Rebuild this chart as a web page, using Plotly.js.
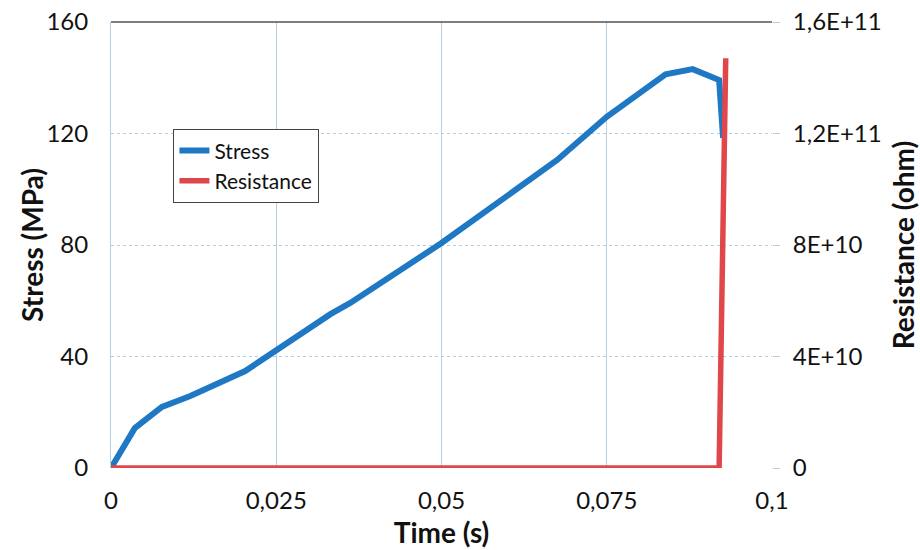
<!DOCTYPE html>
<html>
<head>
<meta charset="utf-8">
<script src="https://cdn.plot.ly/plotly-3.0.1.min.js"></script>
<style>body{margin:0;background:#fff;} #chart{width:920px;height:550px;}</style>
</head>
<body>
<div id="chart"></div>
<script>
// Stress curve (time in s, stress in MPa)
var stressTime = [0, 0.0036, 0.0077, 0.0120, 0.0203, 0.025, 0.0332, 0.0362, 0.05, 0.0675, 0.075, 0.0839, 0.0880, 0.0920, 0.0926];
var stressValues = [0, 14.3, 21.9, 25.8, 34.8, 42.3, 55.2, 59.2, 80.7, 110.5, 126, 141.2, 143.1, 139.2, 118.4];
// Resistance curve (time in s, resistance in ohm)
var resTime = [0, 0.0920, 0.0930];
var resValues = [0, 0, 1.47e11];
// Axis ticks
var xTicks = [0, 0.025, 0.05, 0.075, 0.1];
var yTicks = [0, 40, 80, 120, 160];
var y2Ticks = [0, 4e10, 8e10, 1.2e11, 1.6e11];
var y2TickLabels = ["0", "4E+10", "8E+10", "1,2E+11", "1,6E+11"];

var gridBlue = "#b3cfe0";
var tickFont = {family: "Lato, 'Open Sans', sans-serif", size: 24, color: "#111"};
var titleFont = {family: "Lato, 'Open Sans', sans-serif", size: 28, color: "#111", weight: "bold"};

var traces = [
  {x: stressTime, y: stressValues, name: "Stress", type: "scatter", mode: "lines",
   line: {color: "#1f78c4", width: 6}, yaxis: "y"},
  {x: resTime, y: resValues, name: "Resistance", type: "scatter", mode: "lines",
   line: {color: "#e0474a", width: 5.5}, yaxis: "y2"}
];

var layout = {
  width: 920, height: 550,
  margin: {l: 111, r: 148, t: 22, b: 82},
  paper_bgcolor: "#fff", plot_bgcolor: "#fff",
  separators: ",.",
  showlegend: true,
  legend: {x: 0.094, y: 0.76, xanchor: "left", yanchor: "top",
    bgcolor: "#fff", bordercolor: "#444", borderwidth: 1.3,
    font: {family: "Lato, 'Open Sans', sans-serif", size: 21, color: "#111"},
    tracegroupgap: 2, itemwidth: 30},
  xaxis: {range: [0, 0.1], tickvals: xTicks, tickformat: ".3~f",
    showgrid: true, gridcolor: gridBlue, gridwidth: 1, griddash: "solid",
    zeroline: false, showline: false, ticks: "", tickfont: tickFont,
    ticklabelstandoff: 16,
    title: {text: "Time (s)", font: titleFont, standoff: 10}},
  yaxis: {range: [0, 160], tickvals: yTicks, showgrid: true, gridcolor: gridBlue,
    griddash: "dot", gridwidth: 1, zeroline: false, showline: true, linecolor: gridBlue,
    ticks: "", tickfont: tickFont, ticklabelstandoff: 17},
  yaxis2: {range: [0, 1.6e11], overlaying: "y", side: "right", tickvals: y2Ticks,
    ticktext: y2TickLabels, showgrid: false, zeroline: false, showline: false,
    ticks: "outside", ticklen: 7, tickcolor: gridBlue, tickwidth: 1,
    tickfont: tickFont, ticklabelstandoff: 8,
    title: {text: "Resistance (ohm)", font: titleFont, standoff: 18}},
  annotations: [
    {text: "Stress (MPa)", xref: "paper", yref: "paper", x: -0.1195, y: 0.5,
     xanchor: "center", yanchor: "middle", textangle: -90, showarrow: false, font: titleFont}
  ],
  shapes: [
    {type: "line", xref: "paper", yref: "paper", x0: 0, x1: 1, y0: 1, y1: 1,
     line: {color: "#555", width: 1.3}, layer: "above"}
  ]
};

Plotly.newPlot("chart", traces, layout, {staticPlot: true});
</script>
</body>
</html>
